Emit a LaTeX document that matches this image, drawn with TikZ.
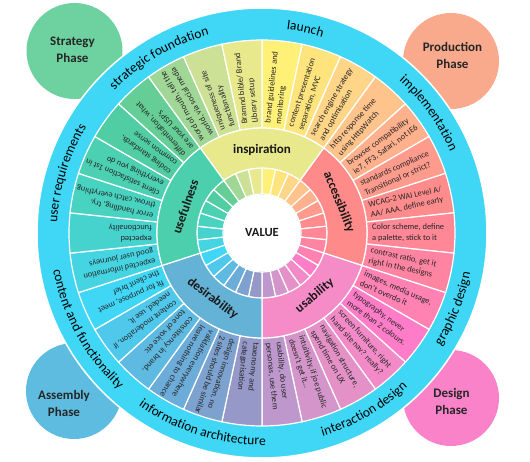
\documentclass[tikz,border=0pt]{standalone}
\usepackage{fontspec}
\setmainfont{Carlito}
\usetikzlibrary{decorations.text}
\definecolor{ringblue}{RGB}{64,214,245}
\definecolor{phStrat}{RGB}{110,210,160}
\definecolor{phProd}{RGB}{250,170,140}
\definecolor{phAsm}{RGB}{95,188,225}
\definecolor{phDes}{RGB}{250,130,200}
\definecolor{cInsp}{RGB}{232,232,140}
\definecolor{cAcc}{RGB}{255,138,138}
\definecolor{cUsa}{RGB}{245,140,200}
\definecolor{cDes}{RGB}{100,178,214}
\definecolor{cUse}{RGB}{76,207,172}
\definecolor{w1}{RGB}{255,240,120}
\definecolor{w2}{RGB}{255,228,125}
\definecolor{w3}{RGB}{255,213,135}
\definecolor{w4}{RGB}{255,196,140}
\definecolor{w5}{RGB}{255,176,140}
\definecolor{w6}{RGB}{255,155,140}
\definecolor{w7}{RGB}{255,140,140}
\definecolor{w8}{RGB}{255,135,150}
\definecolor{w9}{RGB}{255,132,162}
\definecolor{w10}{RGB}{255,130,178}
\definecolor{w11}{RGB}{255,125,200}
\definecolor{w12}{RGB}{243,138,200}
\definecolor{w13}{RGB}{228,145,200}
\definecolor{w14}{RGB}{212,150,202}
\definecolor{w15}{RGB}{190,152,205}
\definecolor{w16}{RGB}{150,152,200}
\definecolor{w17}{RGB}{125,162,208}
\definecolor{w18}{RGB}{108,172,216}
\definecolor{w19}{RGB}{95,186,226}
\definecolor{w20}{RGB}{80,200,236}
\definecolor{w21}{RGB}{64,214,245}
\definecolor{w22}{RGB}{68,212,226}
\definecolor{w23}{RGB}{70,210,205}
\definecolor{w24}{RGB}{72,210,192}
\definecolor{w25}{RGB}{75,208,178}
\definecolor{w26}{RGB}{80,205,162}
\definecolor{w27}{RGB}{100,206,150}
\definecolor{w28}{RGB}{160,215,150}
\definecolor{w29}{RGB}{205,225,150}
\definecolor{w30}{RGB}{232,232,140}
\newcommand{\ringfont}{\fontsize{13.5}{16}\selectfont}
\newcommand{\sector}[5]{\filldraw[fill=#1,draw=white,line width=1.2pt] (#2:#4pt) arc[start angle=#2,end angle=#3,radius=#4pt] -- (#3:#5pt) arc[start angle=#3,end angle=#2,radius=#5pt] -- cycle;}
\newcommand{\cwlabel}[3]{\path[decorate,decoration={text along path,text={|\ringfont|#3},text align=center}] (#1+35:#2pt) arc[start angle=#1+35,end angle=#1-35,radius=#2pt];}
\newcommand{\ccwlabel}[3]{\path[decorate,decoration={text along path,text={|\ringfont|#3},text align=center}] (#1-35:#2pt) arc[start angle=#1-35,end angle=#1+35,radius=#2pt];}
\tikzset{
  wtxt/.style={anchor=west,align=left,inner sep=0pt,font=\fontsize{8.4}{10.6}\selectfont,text=black!85},
  catlbl/.style={font=\bfseries\fontsize{13}{15}\selectfont,text=black!90,inner sep=0pt},
  phasedisc/.style={circle,inner sep=0pt,minimum size=96pt},
  phaselbl/.style={align=center,inner sep=0pt,font=\bfseries\fontsize{13}{17}\selectfont,text=black!85},
}
\begin{document}
\begin{tikzpicture}
\useasboundingbox (-262pt,-228pt) rectangle (268pt,233pt);
% phase circles
\node[phasedisc,fill=phStrat] (strategy) at (-187.5pt,182pt) {};
\node[phasedisc,fill=phProd] (production) at (189pt,172pt) {};
\node[phasedisc,fill=phAsm] (assembly) at (-188pt,-158pt) {};
\node[phasedisc,fill=phDes] (design) at (189pt,-165pt) {};
\node[phaselbl] (strategylbl) at (-189.5pt,183pt) {Strategy\\Phase};
\node[phaselbl] (productionlbl) at (190.5pt,178pt) {Production\\Phase};
\node[phaselbl] (assemblylbl) at (-198pt,-170pt) {Assembly\\Phase};
\node[phaselbl] (designlbl) at (189.5pt,-168pt) {Design\\Phase};
% blue ring
\filldraw[fill=ringblue,draw=white,line width=1.5pt] (0,0) circle[radius=225pt];
% wedges
\foreach \i in {1,...,30}{
  \pgfmathsetmacro{\sa}{102-12*\i}
  \pgfmathsetmacro{\ea}{90-12*\i}
  \sector{w\i}{\sa}{\ea}{105}{193}
  \sector{w\i}{\sa}{\ea}{39}{65}
}
% categories
\sector{cInsp}{126}{54}{65}{105}
\sector{cAcc}{54}{-18}{65}{105}
\sector{cUsa}{-18}{-90}{65}{105}
\sector{cDes}{-90}{-162}{65}{105}
\sector{cUse}{-162}{-234}{65}{105}
\fill[white] (0,0) circle[radius=38.5pt];
\node[font=\bfseries\fontsize{12.5}{14}\selectfont,text=black!90] (value) at (0,1pt) {VALUE};
% category labels
\node[catlbl] (inspiration) at (90:83pt) {inspiration};
\node[catlbl,rotate=-68] (accessibility) at (22:83pt) {accessibility};
\node[catlbl,rotate=40] (usability) at (-50:82pt) {usability};
\node[catlbl,rotate=-37] (desirability) at (-127:82pt) {desirability};
\node[catlbl,rotate=71] (usefulness) at (161:81pt) {usefulness};
% wedge texts
\node[wtxt,rotate=84] (t1) at (84:110pt) {brand guidelines and\\monitoring};
\node[wtxt,rotate=72] (t2) at (72:110pt) {content presentation\\separation, MVC};
\node[wtxt,rotate=60] (t3) at (60:110pt) {search engine strategy\\and optimisation};
\node[wtxt,rotate=48] (t4) at (48:110pt) {http response time\\using HttpWatch};
\node[wtxt,rotate=36] (t5) at (36:110pt) {browser compatibility\\ie7, FF3, Safari, not IE6};
\node[wtxt,rotate=24] (t6) at (24:110pt) {standards compliance\\Transitional or strict?};
\node[wtxt,rotate=12] (t7) at (12:110pt) {WCAG-2 WAI Level A/\\AA/ AAA, define early};
\node[wtxt,rotate=0] (t8) at (0:110pt) {Color scheme, define\\a palette, stick to it};
\node[wtxt,rotate=-12] (t9) at (-12:110pt) {contrast ratio, get it\\right in the designs};
\node[wtxt,rotate=-24] (t10) at (-24:110pt) {images, media usage,\\don't overdo it};
\node[wtxt,rotate=-36] (t11) at (-36:110pt) {typography, never\\more than 2 colours.};
\node[wtxt,rotate=-48] (t12) at (-48:110pt) {screen furniture, right\\hand site nav? really?};
\node[wtxt,rotate=-60] (t13) at (-60:110pt) {navigation structure,\\spend time on UX};
\node[wtxt,rotate=-72] (t14) at (-72:110pt) {intuitivity, if joe public\\doesn't get it...};
\node[wtxt,rotate=-84] (t15) at (-84:110pt) {usability, do user\\personas, use them};
\node[wtxt,rotate=-96] (t16) at (-96:110pt) {taxonomy and\\categorisation};
\node[wtxt,rotate=-108] (t17) at (-108:110pt) {design innovation, no\\2 sites should be similar};
\node[wtxt,rotate=-120] (t18) at (-120:110pt) {validation everywhere\\leave nothing to chance};
\node[wtxt,rotate=-132] (t19) at (-132:110pt) {consistency in brand,\\tone of voice etc};
\node[wtxt,rotate=-144] (t20) at (-144:110pt) {content moderation, if\\needed, use it.};
\node[wtxt,rotate=-156] (t21) at (-156:110pt) {fit for purpose, meet\\the client brief};
\node[wtxt,rotate=-168] (t22) at (-168:110pt) {expected information\\good user journeys};
\node[wtxt,rotate=180] (t23) at (180:110pt) {expected\\functionality};
\node[wtxt,rotate=168] (t24) at (168:110pt) {error handling, try,\\throw, catch everything};
\node[wtxt,rotate=156] (t25) at (156:110pt) {client satisfaction 1st in\\everything you do};
\node[wtxt,rotate=144] (t26) at (144:110pt) {coding standards,\\common sense};
\node[wtxt,rotate=132] (t27) at (132:110pt) {differentiation, what\\are your USP's};
\node[wtxt,rotate=120] (t28) at (120:110pt) {word of mouth, tell the\\world, via social media};
\node[wtxt,rotate=108] (t29) at (108:110pt) {uniqueness of site\\functionality};
\node[wtxt,rotate=96] (t30) at (96:110pt) {Bramnd bible/ Brand\\Library setup};
% ring labels
\cwlabel{78}{205}{launch}
\cwlabel{120.5}{205}{strategic foundation}
\cwlabel{35.7}{205}{implementation}
\cwlabel{163}{205}{user requirements}
\ccwlabel{-21.6}{212}{graphic design}
\ccwlabel{-60}{212}{interaction design}
\ccwlabel{-107.3}{212}{information architecture}
\ccwlabel{208.8}{212}{content and functionality}
\end{tikzpicture}
\end{document}
